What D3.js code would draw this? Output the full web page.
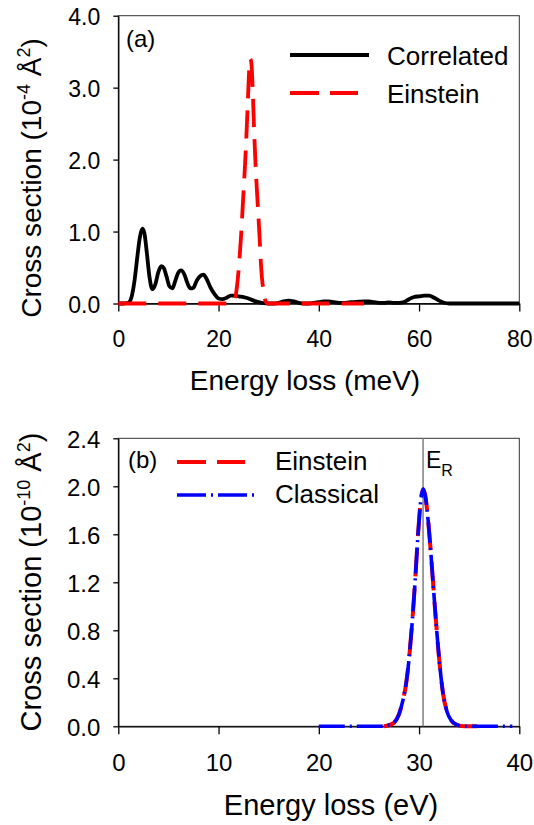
<!DOCTYPE html>
<html>
<head>
<meta charset="utf-8">
<script src="https://cdn.jsdelivr.net/npm/d3@7"></script>
<style>
  body { margin: 0; background: #fff; }
  text { font-family: 'Liberation Sans', Arial, sans-serif; fill: #000; }
  .axis path, .axis line { stroke: #000; stroke-width: 1.3; }
</style>
</head>
<body>
<div class="chart-container"></div>
<script>
// Data - panel (a), energy in meV, cross section in 1e-4 A^2
const correlated = [
  [0, 0], [1, 0], [2, 0.01], [2.6, 0.08], [3.2, 0.3], [3.8, 0.65], [4.3, 0.92], [4.8, 1.04],
  [5.2, 0.98], [5.7, 0.7], [6.2, 0.38], [6.8, 0.2], [7.4, 0.27], [8.0, 0.44], [8.6, 0.52],
  [9.1, 0.49], [9.6, 0.38], [10.2, 0.24], [10.8, 0.21], [11.3, 0.3], [11.9, 0.42], [12.5, 0.46],
  [13.2, 0.4], [13.8, 0.28], [14.4, 0.21], [15.0, 0.22], [15.6, 0.31], [16.3, 0.38], [17.0, 0.4],
  [17.7, 0.33], [18.4, 0.22], [19.2, 0.13], [20.0, 0.07], [20.8, 0.06], [21.6, 0.08], [22.4, 0.11],
  [23.2, 0.11], [24.0, 0.1], [25.0, 0.09], [26.0, 0.07], [27.0, 0.04], [28.0, 0.02], [29.0, 0.005],
  [30, 0], [31, 0], [32, 0.01], [33, 0.03], [34, 0.04], [35, 0.03], [36, 0.01], [37, 0], [38, 0],
  [39, 0.01], [40, 0.02], [41, 0.03], [42, 0.03], [43, 0.02], [44, 0.01], [45, 0.01], [46, 0.015],
  [47, 0.02], [48, 0.025], [49, 0.03], [50, 0.03], [51, 0.02], [52, 0.01], [53, 0.01], [54, 0.015],
  [55, 0.01], [56, 0.01], [57, 0.02], [58, 0.06], [59, 0.09], [60, 0.1], [61, 0.11], [62, 0.11],
  [63, 0.08], [64, 0.04], [65, 0.01], [66, 0], [68, 0], [70, 0], [72, 0], [74, 0], [76, 0], [78, 0], [80, 0]
];
const einsteinA = [
  [0, 0], [10, 0], [20, 0], [22.5, 0], [23.2, 0.05], [23.7, 0.25], [24.1, 0.55], [24.5, 0.95],
  [24.9, 1.45], [25.3, 1.95], [25.6, 2.4], [25.9, 2.9], [26.15, 3.3], [26.35, 3.4], [26.6, 3.3],
  [26.85, 2.9], [27.1, 2.4], [27.4, 1.9], [27.8, 1.4], [28.2, 0.9], [28.5, 0.5], [28.9, 0.2],
  [29.3, 0.05], [29.8, 0], [35, 0], [40, 0], [45, 0], [49, 0]
];
const xTicksA = [0, 20, 40, 60, 80];
const yTicksA = [0, 1, 2, 3, 4];

// Data - panel (b), energy in eV, cross section in 1e-10 A^2
const classicalB = [
  [20, 0], [22, 0], [24, 0], [26, 0], [27, 0.01], [27.5, 0.03], [28, 0.1], [28.4, 0.22],
  [28.7, 0.35], [29, 0.56], [29.3, 0.85], [29.6, 1.2], [29.9, 1.6], [30.2, 1.9], [30.4, 1.98],
  [30.6, 1.93], [30.9, 1.72], [31.2, 1.42], [31.5, 1.08], [31.8, 0.76], [32.1, 0.48], [32.4, 0.27],
  [32.8, 0.12], [33.2, 0.05], [33.7, 0.015], [34.5, 0], [36, 0], [38, 0], [39.3, 0]
];
const einsteinB = [
  [26.5, 0], [27, 0.01], [27.5, 0.03], [28, 0.1], [28.4, 0.22], [28.7, 0.35], [29, 0.56],
  [29.3, 0.85], [29.6, 1.2], [29.9, 1.6], [30.2, 1.9], [30.4, 1.97], [30.6, 1.93], [30.9, 1.72],
  [31.2, 1.42], [31.5, 1.08], [31.8, 0.76], [32.1, 0.48], [32.4, 0.27], [32.8, 0.12], [33.2, 0.05],
  [33.7, 0.015], [34.5, 0], [36, 0], [37, 0]
];
const recoilEnergy = 30.4;
const xTicksB = [0, 10, 20, 30, 40];
const yTicksB = [0, 0.4, 0.8, 1.2, 1.6, 2.0, 2.4];

const svg = d3.select('.chart-container')
  .append('svg')
  .attr('width', 534)
  .attr('height', 825);

const left = 118.3, right = 519.3;

function drawPanel(cfg) {
  const xScale = d3.scaleLinear().domain(cfg.xDomain).range([left, right]);
  const yScale = d3.scaleLinear().domain(cfg.yDomain).range([cfg.bottom, cfg.top]);

  const g = svg.append('g');

  // frame
  g.append('rect')
    .attr('x', left).attr('y', cfg.top)
    .attr('width', right - left).attr('height', cfg.bottom - cfg.top)
    .attr('fill', 'none').attr('stroke', '#333').attr('stroke-width', 1);

  const xAxis = d3.axisBottom(xScale)
    .tickValues(cfg.xTicks)
    .tickSizeInner(8)
    .tickSizeOuter(0)
    .tickPadding(cfg.xPad)
    .tickFormat(d3.format('d'));

  g.append('g')
    .attr('class', 'x axis')
    .attr('transform', `translate(0, ${cfg.bottom})`)
    .call(xAxis)
    .selectAll('text')
    .style('font-size', cfg.tickFont + 'px');

  const yAxis = d3.axisLeft(yScale)
    .tickValues(cfg.yTicks)
    .tickSizeInner(5)
    .tickSizeOuter(0)
    .tickPadding(13)
    .tickFormat(d3.format('.1f'));

  g.append('g')
    .attr('class', 'y axis')
    .attr('transform', `translate(${left}, 0)`)
    .call(yAxis)
    .selectAll('text')
    .attr('dy', '0.4em')
    .style('font-size', cfg.tickFont + 'px');

  g.selectAll('.axis text').style('font-family', "'Liberation Sans', Arial, sans-serif").attr('fill', '#000');

  // axis titles
  g.append('text')
    .attr('x', cfg.xLabelX)
    .attr('y', cfg.xLabelY)
    .attr('text-anchor', 'middle')
    .style('font-size', cfg.labelFont + 'px')
    .text(cfg.xLabel);

  const yl = g.append('text')
    .attr('transform', `translate(41, ${cfg.yLabelY}) rotate(-90)`)
    .attr('text-anchor', 'middle')
    .style('font-size', cfg.labelFont + 'px');
  yl.append('tspan').text('Cross section (10');
  yl.append('tspan').attr('dy', -11).style('font-size', '18px').text(cfg.yExp);
  yl.append('tspan').attr('dy', 11).text(' Å');
  yl.append('tspan').attr('dy', -11).style('font-size', '18px').text('2');
  yl.append('tspan').attr('dy', 11).text(')');

  const line = d3.line()
    .x(d => xScale(d[0]))
    .y(d => yScale(d[1]))
    .curve(d3.curveMonotoneX);

  return { g, xScale, yScale, line };
}

// Panel (a)
const a = drawPanel({
  xDomain: [0, 80], yDomain: [0, 4], top: 15.7, bottom: 303.5,
  xTicks: xTicksA, yTicks: yTicksA, xPad: 19, tickFont: 23, labelFont: 28,
  xLabel: 'Energy loss (meV)', xLabelX: 305, xLabelY: 390,
  yLabelY: 178, yExp: '-4'
});

a.g.append('path')
  .datum(correlated)
  .attr('d', a.line)
  .attr('fill', 'none')
  .attr('stroke', '#000')
  .attr('stroke-width', 3.8)
  .attr('stroke-linejoin', 'round');

a.g.append('path')
  .datum(einsteinA)
  .attr('d', a.line)
  .attr('fill', 'none')
  .attr('stroke', '#ff0000')
  .attr('stroke-width', 3.8)
  .attr('stroke-dasharray', '28,12');

a.g.append('text').attr('x', 126).attr('y', 47).style('font-size', '24px').text('(a)');

a.g.append('line').attr('x1', 290).attr('x2', 369).attr('y1', 55).attr('y2', 55)
  .attr('stroke', '#000').attr('stroke-width', 4);
a.g.append('text').attr('x', 387).attr('y', 65).style('font-size', '26px').text('Correlated');
a.g.append('line').attr('x1', 290).attr('x2', 358).attr('y1', 93).attr('y2', 93)
  .attr('stroke', '#ff0000').attr('stroke-width', 4).attr('stroke-dasharray', '29,11');
a.g.append('text').attr('x', 387).attr('y', 103).style('font-size', '26px').text('Einstein');

// Panel (b)
const b = drawPanel({
  xDomain: [0, 40], yDomain: [0, 2.4], top: 438.3, bottom: 726.3,
  xTicks: xTicksB, yTicks: yTicksB, xPad: 20, tickFont: 24, labelFont: 29,
  xLabel: 'Energy loss (eV)', xLabelX: 331, xLabelY: 815,
  yLabelY: 582, yExp: '-10'
});

b.g.append('line')
  .attr('x1', b.xScale(recoilEnergy)).attr('x2', b.xScale(recoilEnergy))
  .attr('y1', 438.3).attr('y2', 726.3)
  .attr('stroke', '#808080').attr('stroke-width', 1.5);

b.g.append('path')
  .datum(einsteinB)
  .attr('d', b.line)
  .attr('fill', 'none')
  .attr('stroke', '#ff0000')
  .attr('stroke-width', 4)
  .attr('stroke-dasharray', '28,12');

b.g.append('path')
  .datum(classicalB)
  .attr('d', b.line)
  .attr('fill', 'none')
  .attr('stroke', '#0000ff')
  .attr('stroke-width', 3.6)
  .attr('stroke-dasharray', '26,5,2,5');

const er = b.g.append('text').attr('x', 426).attr('y', 468).style('font-size', '23px');
er.append('tspan').text('E');
er.append('tspan').attr('dy', 8).style('font-size', '16px').text('R');

b.g.append('text').attr('x', 128).attr('y', 468).style('font-size', '24px').text('(b)');

b.g.append('line').attr('x1', 177).attr('x2', 245).attr('y1', 462).attr('y2', 462)
  .attr('stroke', '#ff0000').attr('stroke-width', 4).attr('stroke-dasharray', '29,11');
b.g.append('text').attr('x', 275).attr('y', 470).style('font-size', '26px').text('Einstein');
b.g.append('line').attr('x1', 177).attr('x2', 254).attr('y1', 495).attr('y2', 495)
  .attr('stroke', '#0000ff').attr('stroke-width', 3.6).attr('stroke-dasharray', '29,5,2,5');
b.g.append('text').attr('x', 275).attr('y', 503).style('font-size', '26px').text('Classical');
</script>
</body>
</html>
